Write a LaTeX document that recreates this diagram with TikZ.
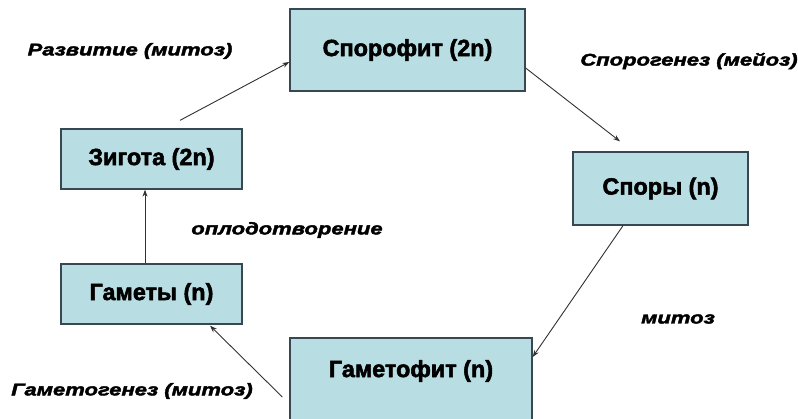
\documentclass[tikz,border=0pt]{standalone}
\usepackage{fontspec}
\setmainfont{Liberation Sans}
\newfontfamily\boxf[FakeBold=2.2]{Liberation Sans}
\newfontfamily\labf[FakeBold=2.4,FakeStretch=1.3]{Liberation Sans}
\usetikzlibrary{arrows.meta}
\definecolor{boxfill}{RGB}{184,222,228}
\definecolor{boxline}{RGB}{55,72,82}
\definecolor{arrline}{RGB}{50,50,50}
\begin{document}
\begin{tikzpicture}[x=1bp,y=-1bp,
  stage/.style={draw=boxline,line width=1.3bp,fill=boxfill,inner sep=0pt,
    font=\boxf\bfseries\fontsize{23.5}{26}\selectfont},
  lab/.style={inner sep=0pt,font=\labf\bfseries\itshape\fontsize{17}{20}\selectfont},
  arr/.style={draw=arrline,line width=0.9bp,-{Stealth[length=7bp,width=5bp]}}]
\useasboundingbox (0,0) rectangle (798,418);
\fill[white] (0,0) rectangle (798,418);
\node[stage,minimum width=235bp,minimum height=82bp] (spor) at (407.5,50) {Спорофит (2n)};
\node[stage,minimum width=181bp,minimum height=60bp] (zyg) at (151.5,159) {Зигота (2n)};
\node[stage,minimum width=175bp,minimum height=73bp] (spory) at (660.5,188.5) {Споры (n)};
\node[stage,minimum width=181bp,minimum height=60bp] (gam) at (151.5,294) {Гаметы (n)};
\node[stage,minimum width=242bp,minimum height=82bp] (gmf) at (411,379) {};
\node[stage,draw=none,fill=none] (gmft) at (411,371) {Гаметофит (n)};
\node[lab] (l1) at (130,51) {Развитие (митоз)};
\node[lab] (l2) at (689,61) {Спорогенез (мейоз)};
\node[lab] (l3) at (287,230) {оплодотворение};
\node[lab] (l4) at (678,319) {митоз};
\node[lab] (l5) at (132,391) {Гаметогенез (митоз)};
\draw[arr] ([xshift=28.5bp,yshift=8bp]zyg.north) -- ([yshift=-12bp]spor.west);
\draw[arr] ([yshift=-18bp]spor.east) -- ([xshift=-40.5bp,yshift=10bp]spory.north);
\draw[arr] ([xshift=-37.5bp]spory.south) -- ([yshift=22bp]gmf.east);
\draw[arr] ([xshift=-7bp,yshift=-18bp]gmf.west) -- ([xshift=58.5bp,yshift=-1bp]gam.south);
\draw[arr] ([xshift=-6.5bp]gam.north) -- ([xshift=-6.5bp]zyg.south);
\end{tikzpicture}
\end{document}
